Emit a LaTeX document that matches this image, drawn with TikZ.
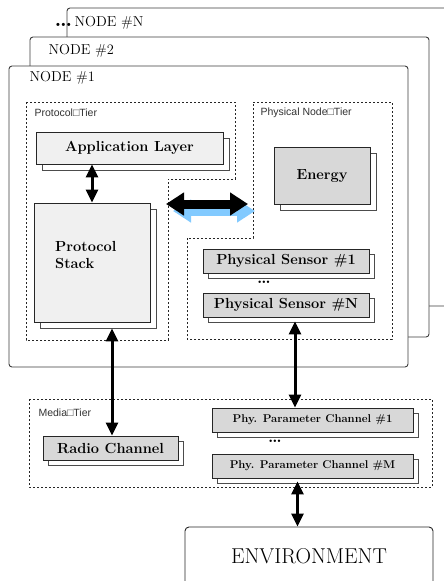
\documentclass[tikz,border=0pt]{standalone}
\usepackage{fontspec}
\newfontfamily\tierfont{Liberation Sans}
\usetikzlibrary{arrows.meta,shadows,calc}
\definecolor{boxLight}{RGB}{240,240,240}
\definecolor{boxGray}{RGB}{216,216,216}
\definecolor{frameGray}{RGB}{60,60,60}
\definecolor{arrowBlue}{RGB}{130,202,255}

\begin{document}
\begin{tikzpicture}[x=1pt,y=-1pt,
    frame/.style={draw=frameGray,fill=white,line width=0.9pt,rounded corners=3pt},
    framelabel/.style={anchor=west,font=\fontsize{14.4}{16}\selectfont},
    tier/.style={draw=black!85,line width=0.7pt,dash pattern=on 2.2pt off 1.8pt},
    tierlabel/.style={anchor=west,text=black!80,font=\tierfont\fontsize{10.5}{12}\selectfont},
    layer/.style={draw=black!85,line width=0.9pt,inner sep=2pt,font=\bfseries\fontsize{14.6}{17}\selectfont,
      copy shadow={fill=white,draw=black!70,shadow xshift=#1,shadow yshift=-#1}},
    layer/.default=5pt,
    dotsep/.style={inner sep=0pt,font=\bfseries\fontsize{17}{17}\selectfont},
    biarrow/.style={line width=3pt,{Triangle[length=13pt,width=12pt]}-{Triangle[length=13pt,width=12pt]}},
    swaparrow/.style={line width=9pt,{Triangle[length=18pt,width=22pt]}-{Triangle[length=18pt,width=22pt]}}]
  \useasboundingbox (0,0) rectangle (444,581);

  % Node frames
  \draw[frame] (67,8) rectangle (470,306);
  \node[framelabel] (labN) at (51,23) {{\fontsize{22}{22}\selectfont\bfseries\ldots}\,NODE \#N};
  \draw[frame] (30,37) rectangle (429,337);
  \node[framelabel] (lab2) at (45,51) {NODE \#2};
  \draw[frame] (9,66) rectangle (408,367);
  \node[framelabel] (lab1) at (26,78) {NODE \#1};

  % Tiers
  \draw[tier] (26,102) -- (235,102) -- (235,179) -- (168,179) -- (168,340) -- (26,340) -- cycle;
  \node[tierlabel] (protier) at (31,113) {Protocol□Tier};
  \draw[tier] (253,102) -- (392,102) -- (392,339) -- (187,339) -- (187,238) -- (253,238) -- cycle;
  \node[tierlabel] (phytier) at (257,113) {Physical Node□Tier};
  \draw[tier] (29,399) rectangle (432,487);
  \node[tierlabel] (medtier) at (35,413) {Media□Tier};

  % Protocol tier
  \node[layer=6.5pt,fill=boxLight,minimum width=187pt,minimum height=32pt] (app) at (129.5,148) {Application Layer};
  \node[layer=6pt,fill=boxLight,minimum width=116pt,minimum height=119pt] (stack) at (92,262.5) {};
  \node[anchor=west,align=left,inner sep=0pt,font=\bfseries\fontsize{14.6}{17}\selectfont] (stacktext) at (55,255.5) {Protocol\\Stack};

  % Physical node tier
  \node[layer=6pt,fill=boxGray,minimum width=96pt,minimum height=57pt] (energy) at (322,175.5) {Energy};
  \node[layer,fill=boxGray,minimum width=166pt,minimum height=24pt] (sensor1) at (286,261) {Physical Sensor \#1};
  \node[layer,fill=boxGray,minimum width=166pt,minimum height=24pt] (sensorN) at (286,305) {Physical Sensor \#N};
  \node[dotsep] (dots1) at (264,282) {\ldots};

  % Media tier
  \node[layer,fill=boxGray,minimum width=135pt,minimum height=24pt] (radio) at (110.5,448) {Radio Channel};
  \node[layer,fill=boxGray,minimum width=201pt,minimum height=24pt,font=\bfseries\fontsize{11.3}{13}\selectfont] (param1) at (312.5,420) {Phy. Parameter Channel \#1};
  \node[layer,fill=boxGray,minimum width=201pt,minimum height=24pt,font=\bfseries\fontsize{11.3}{13}\selectfont] (paramM) at (312.5,466) {Phy. Parameter Channel \#M};
  \node[dotsep] (dots2) at (275,441) {\ldots};

  % Environment
  \node[draw=black!85,line width=0.9pt,rounded corners=4pt,minimum width=248pt,minimum height=58pt,font=\fontsize{21.5}{23}\selectfont] (env) at (309,556) {ENVIRONMENT};

  % Connectors
  \coordinate (swapL) at (166,204);
  \coordinate (swapR) at (248,204);
  \coordinate (stackOut) at ($(stack.south)+(20,6)$);
  \coordinate (sensorOut) at ($(sensorN.south)+(9,4)$);
  \coordinate (paramOut) at ($(paramM.south)+(-15,3)$);
  \draw[swaparrow,arrowBlue] ($(swapL)+(7,7)$) -- ($(swapR)+(7,7)$);
  \draw[swaparrow,black] (swapL) -- (swapR);
  \draw[biarrow] (app.south -| stack.north) -- (stack.north);
  \draw[biarrow] (stackOut) -- (stackOut |- radio.north);
  \draw[biarrow] (sensorOut) -- (sensorOut |- param1.north);
  \draw[biarrow] (paramOut) -- (paramOut |- env.north);
\end{tikzpicture}
\end{document}
